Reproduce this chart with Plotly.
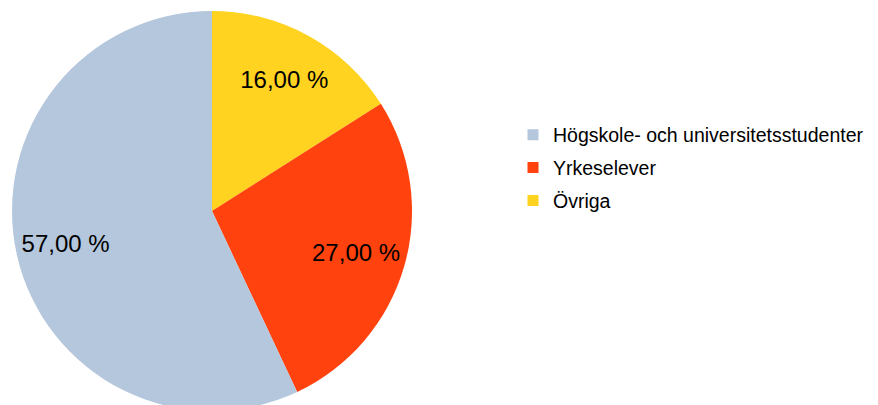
import plotly.graph_objects as go

labels = ["Högskole- och universitetsstudenter", "Yrkeselever", "Övriga"]
values = [57.0, 27.0, 16.0]
colors = ["#b4c7dc", "#ff420e", "#ffd320"]

texts = [f"{v:.2f}".replace(".", ",") + " %" for v in values]

# pie is drawn clockwise from 12 o'clock starting with the last category
p_labels = labels[::-1]
p_values = values[::-1]
p_colors = colors[::-1]
p_texts = texts[::-1]

W, H = 886, 405
dom = dict(x=[4 / W, 404 / W], y=[0, 1])
fig = go.Figure()
fig.add_trace(go.Pie(
    labels=p_labels, values=p_values, textinfo="none",
    sort=False, direction="clockwise", rotation=0,
    marker=dict(colors=p_colors, line=dict(width=0)),
    showlegend=False, hoverinfo="label+percent",
    domain=dom,
))
# transparent ring overlay carrying the percentage labels further out
fig.add_trace(go.Pie(
    labels=p_labels, values=p_values, text=p_texts, textinfo="text",
    textposition="inside", insidetextorientation="horizontal",
    sort=False, direction="clockwise", rotation=0, hole=0.5,
    marker=dict(colors=["rgba(0,0,0,0)"] * 3, line=dict(width=0)),
    textfont=dict(family="Liberation Sans", size=24, color="#000000"),
    showlegend=False, hoverinfo="skip",
    domain=dom,
))
# legend entries
for lab, col in zip(labels, colors):
    fig.add_trace(go.Scatter(
        x=[None], y=[None], mode="markers", name=lab, legendgroup=lab,
        marker=dict(symbol="square", size=11, color=col, line=dict(width=0)),
    ))

fig.update_layout(
    width=W, height=H,
    margin=dict(l=0, r=0, t=3, b=2),
    paper_bgcolor="white", plot_bgcolor="white",
    xaxis=dict(visible=False), yaxis=dict(visible=False),
    legend=dict(x=505 / W, y=0.6075, xanchor="left", yanchor="middle",
                font=dict(family="Liberation Sans", size=19.5, color="#000000"),
                tracegroupgap=4.5, itemwidth=30, bgcolor="rgba(0,0,0,0)"),
    showlegend=True,
)
fig.write_html("out.html")
